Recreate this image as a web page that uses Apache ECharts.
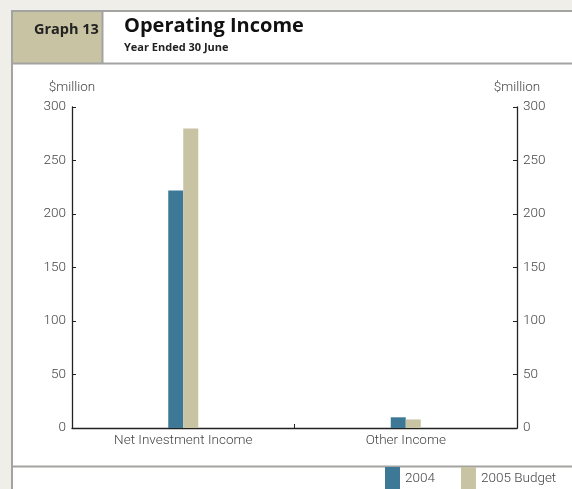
<!DOCTYPE html>
<html><head><meta charset="utf-8">
<script src="https://cdn.jsdelivr.net/npm/echarts@6/dist/echarts.min.js"></script>
<style>html,body{margin:0;padding:0;background:#efeee9;}#c{width:572px;height:489px;}</style>
</head><body><div id="c"></div>
<script>
var categories = ['Net Investment Income', 'Other Income'];
var series2004 = [222, 10];
var seriesBudget2005 = [280, 8];
var seriesNames = ['2004', '2005 Budget'];
var yTicks = [0, 50, 100, 150, 200, 250, 300];

var chart = echarts.init(document.getElementById('c'));
var axisFont = 'Roboto, sans-serif';
var frame = '#a3a4a2';
var labelColor = '#454545';
function yAxis(pos) {
  return {
    type: 'value', position: pos, min: yTicks[0], max: yTicks[yTicks.length - 1], interval: 50,
    name: '$million', nameLocation: 'end', nameGap: 12,
    nameTextStyle: { color: labelColor, fontSize: 13.5, fontFamily: axisFont, fontWeight: 300, align: 'center' },
    axisLine: { show: true, lineStyle: { color: '#222', width: 1.3 } },
    axisTick: { show: true, inside: true, length: 4, lineStyle: { color: '#222' } },
    axisLabel: { color: labelColor, fontSize: 13.5, fontFamily: axisFont, fontWeight: 300, margin: 6 },
    splitLine: { show: false }
  };
}
chart.setOption({
  animation: false,
  backgroundColor: '#efeee9',
  graphic: [
    { type: 'rect', shape: { x: 12, y: 11, width: 570, height: 490 }, style: { fill: '#fff', stroke: frame, lineWidth: 2 }, z: -10 },
    { type: 'rect', shape: { x: 13, y: 12, width: 89, height: 51 }, style: { fill: '#c8c3a3' }, z: -9 },
    { type: 'line', shape: { x1: 102.5, y1: 11, x2: 102.5, y2: 64 }, style: { stroke: frame, lineWidth: 2 }, z: -8 },
    { type: 'line', shape: { x1: 12, y1: 63.5, x2: 580, y2: 63.5 }, style: { stroke: frame, lineWidth: 2 }, z: -8 },
    { type: 'line', shape: { x1: 12, y1: 466.5, x2: 580, y2: 466.5 }, style: { stroke: frame, lineWidth: 2 }, z: -8 },
    { type: 'text', left: 34, top: 22, style: { text: 'Graph 13', font: 'bold 14.5px "Open Sans", sans-serif', fill: '#222' } },
    { type: 'text', left: 124, top: 16, style: { text: 'Operating Income', font: 'bold 20px "Open Sans", sans-serif', fill: '#111' } },
    { type: 'text', left: 124, top: 42, style: { text: 'Year Ended 30 June', font: 'bold 11px "Open Sans", sans-serif', fill: '#222' } }
  ],
  legend: {
    data: seriesNames, left: 385, top: 467, itemWidth: 15, itemHeight: 24, itemGap: 26,
    icon: 'rect',
    textStyle: { color: labelColor, fontSize: 13.5, fontFamily: axisFont, fontWeight: 300 },
    padding: 0
  },
  grid: { left: 72, right: 55, top: 107, bottom: 61 },
  xAxis: {
    type: 'category', data: categories,
    axisLine: { lineStyle: { color: '#222', width: 1.3 } },
    axisTick: { show: true, inside: true, length: 4, lineStyle: { color: '#222' } },
    axisLabel: { color: labelColor, fontSize: 13.5, fontFamily: axisFont, fontWeight: 300, margin: 6 }
  },
  yAxis: [yAxis('left'), yAxis('right')],
  series: [
    { name: seriesNames[0], type: 'bar', data: series2004, barWidth: 15, barGap: '0%', itemStyle: { color: '#3d7896' } },
    { name: seriesNames[1], type: 'bar', data: seriesBudget2005, barWidth: 15, barGap: '0%', itemStyle: { color: '#c8c3a3' } }
  ]
});
</script></body></html>
